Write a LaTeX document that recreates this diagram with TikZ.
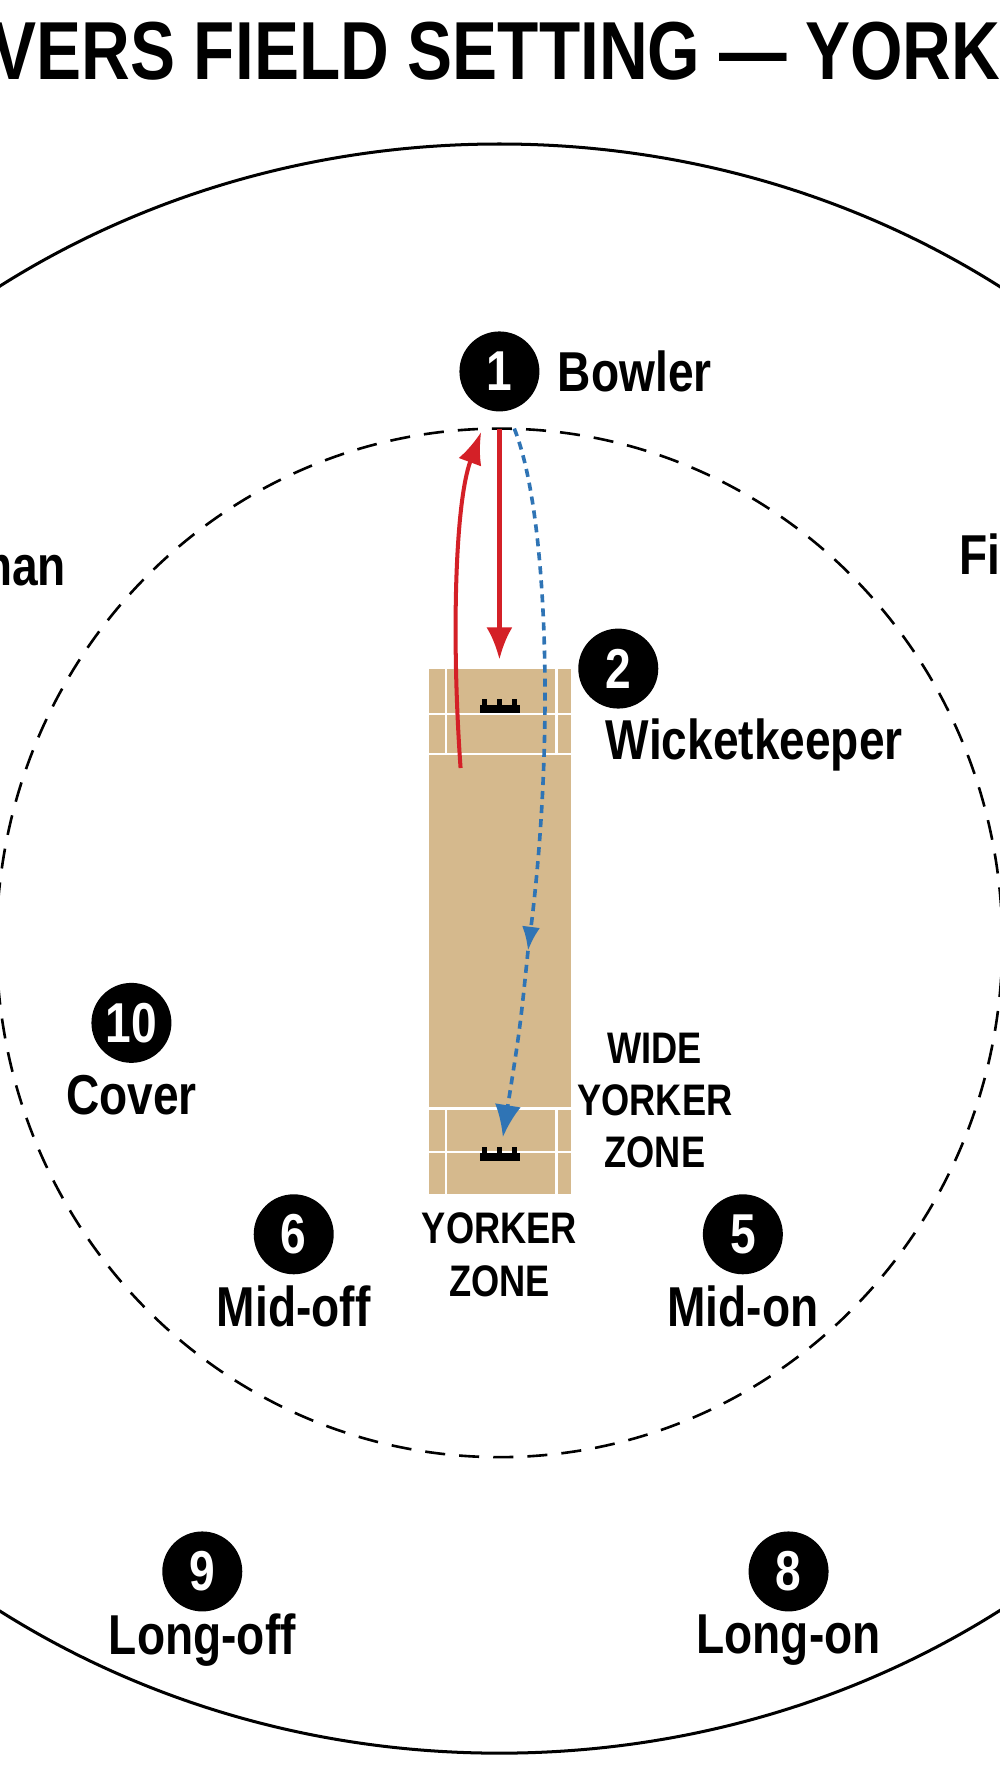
\documentclass[tikz,border=0pt]{standalone}
\usepackage{fontspec}
\setmainfont{Liberation Sans}[FakeStretch=0.82]
\usetikzlibrary{arrows.meta}
\definecolor{pitchtan}{HTML}{D5B98D}
\definecolor{ballred}{HTML}{D42027}
\definecolor{ballblue}{HTML}{2F74B5}
\tikzset{
  player/.style={circle,fill=black,text=white,minimum size=1.4cm,inner sep=0pt,font=\fontsize{28}{30}\selectfont\bfseries},
  role/.style={font=\fontsize{28}{30}\selectfont\bfseries},
  zone/.style={font=\fontsize{22}{26}\selectfont\bfseries,align=center},
  crease/.style={white,line width=1.2pt}
}
\begin{document}
\begin{tikzpicture}[x=0.02cm,y=-0.02cm]
		\useasboundingbox (0,0) rectangle (875,1568);
		\clip (0,0) rectangle (875,1568);
		\fill[white] (0,0) rectangle (875,1568);
		\node[font=\fontsize{41}{46}\selectfont\bfseries] (title) at (452,45) {OVERS FIELD SETTING — YORKER};
		
		% boundary and inner circle
		\draw[line width=1.5pt] (437,830) ellipse [x radius=770, y radius=704];
		\draw[line width=1.3pt,dash pattern=on 10pt off 7pt] (437,825) ellipse [x radius=440, y radius=450];
		
		% pitch
		\fill[pitchtan] (375,585) rectangle (500,1045);
		\draw[crease] (375,625)--(500,625);
		\draw[crease] (375,660)--(500,660);
		\draw[crease] (390,585)--(390,660);
		\draw[crease] (487,585)--(487,660);
		\draw[crease] (375,970)--(500,970);
		\draw[crease] (375,1008)--(500,1008);
		\draw[crease] (390,970)--(390,1045);
		\draw[crease] (487,970)--(487,1045);
		\fill[black] (420,617) rectangle (455,624);
		\foreach \x in {424,437,450} \fill[black] (\x-2,612) rectangle (\x+2,618);
		\fill[black] (420,1009) rectangle (455,1016);
		\foreach \x in {424,437,450} \fill[black] (\x-2,1004) rectangle (\x+2,1010);
		
		% fielders
		\node[player] (p1) at (437,325) {1};
		\node[role,anchor=west] (bowler) at (482,325) {Bowler};
		\node[player] (p2) at (541,585) {2};
		\node[role] (keeper) at (660,652) {Wicketkeeper};
		\node[role,anchor=east] (third) at (64,495) {Third man};
		\node[role,anchor=west] (fine) at (833,490) {Fine leg};
		\node[player] (p10) at (115,895) {10};
		\node[role] (cover) at (115,958) {Cover};
		\node[player] (p6) at (257,1080) {6};
		\node[role] (midoff) at (257,1143) {Mid-off};
		\node[player] (p5) at (650,1080) {5};
		\node[role] (midon) at (650,1143) {Mid-on};
		\node[player] (p9) at (177,1375) {9};
		\node[role] (longoff) at (177,1435) {Long-off};
		\node[player] (p8) at (690,1375) {8};
		\node[role] (longon) at (690,1435) {Long-on};
		
		\node[zone] (wide) at (573,963) {WIDE\\YORKER\\ZONE};
		\node[zone] (yorker) at (437,1098) {YORKER\\ZONE};
		
		% deliveries
		\coordinate (rel) at (437,375);
		\coordinate (short) at (437,577);
		\coordinate (back) at (403,672);
		\coordinate (top) at (421,378);
		\coordinate (brel) at (450,375);
		\coordinate (bmid) at (462,832);
		\coordinate (bend) at (440,995);
		\draw[ballred,line width=2.2pt,-{Latex[length=16pt,width=13pt]}] (rel)--(short);
		\draw[ballred,line width=2pt,-{Latex[length=16pt,width=12pt]}] (back) .. controls (395,560) and (398,440) .. (top);
		\draw[ballblue,line width=1.8pt,dash pattern=on 4pt off 3pt,-{Latex[length=12pt,width=9pt]}] (brel) .. controls (480,450) and (485,650) .. (bmid);
		\draw[ballblue,line width=1.8pt,dash pattern=on 4pt off 3pt,-{Latex[length=16pt,width=13pt]}] (bmid) .. controls (455,900) .. (bend);
		
		\end{tikzpicture}
\end{document}
